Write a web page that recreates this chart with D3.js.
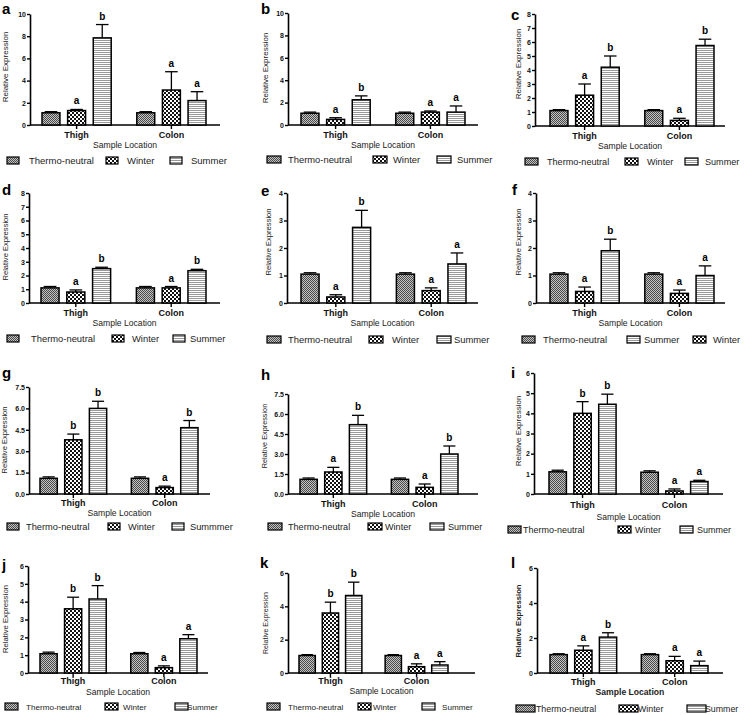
<!DOCTYPE html>
<html>
<head>
<meta charset="utf-8">
<script src="https://cdn.jsdelivr.net/npm/d3@7"></script>
<style>
  body { margin: 0; background: #fff; }
  svg { display: block; }
  text { font-family: "Liberation Sans", Arial, sans-serif; }
</style>
</head>
<body>
<div id="chart"></div>
<script>
const width = 746,
  height = 715;

// ---- data ----
const panelLetters = ["a", "b", "c", "d", "e", "f", "g", "h", "i", "j", "k", "l"];
const groups = ["Thigh", "Colon"];
const seriesNames = ["Thermo-neutral", "Winter", "Summer"];

// mean relative expression, order: Thermo-neutral, Winter, Summer
const thighMeans = [
  [1.1, 1.3, 7.85], [1.05, 0.5, 2.25], [1.1, 2.2, 4.2],
  [1.1, 0.8, 2.5], [1.05, 0.22, 2.75], [1.05, 0.42, 1.9],
  [1.1, 3.8, 6.0], [1.1, 1.65, 5.2], [1.1, 4.0, 4.45],
  [1.08, 3.6, 4.15], [1.05, 3.6, 4.65], [1.05, 1.3, 2.05]
];
const thighErrors = [
  [0.1, 0.1, 1.2], [0.1, 0.15, 0.35], [0.07, 0.8, 0.8],
  [0.1, 0.15, 0.1], [0.05, 0.08, 0.62], [0.05, 0.16, 0.42],
  [0.1, 0.4, 0.5], [0.1, 0.35, 0.7], [0.08, 0.58, 0.5],
  [0.09, 0.65, 0.75], [0.05, 0.65, 0.8], [0.05, 0.25, 0.25]
];
const colonMeans = [
  [1.1, 3.15, 2.2], [1.05, 1.15, 1.15], [1.1, 0.4, 5.75],
  [1.1, 1.1, 2.35], [1.05, 0.45, 1.42], [1.05, 0.35, 1.0],
  [1.1, 0.45, 4.65], [1.1, 0.5, 3.0], [1.08, 0.15, 0.62],
  [1.08, 0.3, 1.92], [1.05, 0.38, 0.48], [1.05, 0.7, 0.42]
];
const colonErrors = [
  [0.1, 1.65, 0.8], [0.1, 0.1, 0.55], [0.07, 0.15, 0.45],
  [0.1, 0.1, 0.1], [0.05, 0.1, 0.4], [0.05, 0.12, 0.35],
  [0.1, 0.1, 0.5], [0.1, 0.25, 0.6], [0.07, 0.1, 0.06],
  [0.07, 0.1, 0.23], [0.05, 0.17, 0.2], [0.05, 0.25, 0.26]
];
const thighSig = [
  ["", "a", "b"], ["", "a", "b"], ["", "a", "b"], ["", "a", "b"], ["", "a", "b"], ["", "a", "b"],
  ["", "b", "b"], ["", "a", "b"], ["", "b", "b"], ["", "b", "b"], ["", "b", "b"], ["", "a", "b"]
];
const colonSig = [
  ["", "a", "a"], ["", "a", "a"], ["", "a", "b"], ["", "a", "b"], ["", "a", "a"], ["", "a", "a"],
  ["", "a", "b"], ["", "a", "b"], ["", "a", "a"], ["", "a", "a"], ["", "a", "a"], ["", "a", "a"]
];
const yTicks = [
  [0, 2, 4, 6, 8, 10], [0, 2, 4, 6, 8, 10], [0, 1, 2, 3, 4, 5, 6, 7, 8],
  [0, 1, 2, 3, 4, 5, 6, 7, 8], [0, 1, 2, 3, 4], [0, 1, 2, 3, 4],
  [0, 1.5, 3, 4.5, 6, 7.5], [0, 1.5, 3, 4.5, 6, 7.5], [0, 1, 2, 3, 4, 5, 6],
  [0, 1, 2, 3, 4, 5, 6], [0, 2, 4, 6], [0, 2, 4, 6]
];
// legend entries (index into seriesNames) and their printed text
const legendOrder = [
  [0, 1, 2], [0, 1, 2], [0, 1, 2], [0, 1, 2], [0, 1, 2], [0, 2, 1],
  [0, 1, 2], [0, 1, 2], [0, 1, 2], [0, 1, 2], [0, 1, 2], [0, 1, 2]
];
const legendText = [
  ["Thermo-neutral", "Winter", "Summer"], ["Thermo-neutral", "Winter", "Summer"],
  ["Thermo-neutral", "Winter", "Summer"], ["Thermo-neutral", "Winter", "Summer"],
  ["Thermo-neutral", "Winter", "Summer"], ["Thermo-neutral", "Summer", "Winter"],
  ["Thermo-neutral", "Winter", "Summmer"], ["Thermo-neutral", "Winter", "Summer"],
  ["Thermo-neutral", "Winter", "Summer"], ["Thermo-neutral", "Winter", "Summer"],
  ["Thermo-neutral", "Winter", "Summer"], ["Thermo-neutral", "Winter", "Summer"]
];

// ---- panel placement on the page ----
const layout = [
  { ax: [30, 220], bx: [42, 206], y: [125, 14], lt: [2, 14], yl: [8, 67, 8], grp: 138, xl: 148, lg: 164, sw: [7, 106, 170], tx: [29, 127, 191], swW: 12, lf: 9.5 },
  { ax: [288, 478], bx: [301, 465], y: [125, 13], lt: [261, 14], yl: [268, 68, 8], grp: 138, xl: 148, lg: 163, sw: [267, 373, 437], tx: [288, 393, 457], swW: 14, lf: 9.4 },
  { ax: [535, 725], bx: [550, 714], y: [126, 14], lt: [511, 20], yl: [521, 64, 8], grp: 139, xl: 149, lg: 165, sw: [525, 625, 685], tx: [547, 647, 705], swW: 13, lf: 9.1 },
  { ax: [29, 220], bx: [41, 206], y: [303, 193], lt: [2, 195], yl: [8, 247, 7.6], grp: 316, xl: 326, lg: 342, sw: [7, 112, 173], tx: [31, 132, 190], swW: 12, lf: 9.4 },
  { ax: [287, 478], bx: [301, 466], y: [303, 193], lt: [261, 196], yl: [271, 242, 7.6], grp: 316, xl: 326, lg: 343, sw: [267, 369, 437], tx: [288, 392, 454], swW: 14, lf: 9.4 },
  { ax: [536, 725], bx: [550, 714], y: [303, 193], lt: [512, 195], yl: [521, 242, 7.6], grp: 316, xl: 326, lg: 343, sw: [522, 627, 693], tx: [543, 644, 713], swW: 13, lf: 9.4 },
  { ax: [29, 210], bx: [40, 198], y: [494, 387], lt: [2, 378], yl: [7, 440, 7.6], grp: 506, xl: 516, lg: 530, sw: [7, 108, 172], tx: [26, 128, 190], swW: 12, lf: 9.3 },
  { ax: [288, 478], bx: [300, 458], y: [494, 394], lt: [261, 380], yl: [267, 436, 7.3], grp: 507, xl: 517, lg: 530, sw: [268, 368, 430], tx: [288, 385, 448], swW: 14, lf: 9.1 },
  { ax: [534, 723], bx: [549, 708], y: [494, 373], lt: [511, 378], yl: [521, 431, 8], grp: 508, xl: 520, lg: 533, sw: [508, 618, 680], tx: [523, 635, 697], swW: 13, lf: 9 },
  { ax: [28, 208], bx: [40, 197], y: [673, 566], lt: [2, 570], yl: [8, 619, 7.7], grp: 684, xl: 695, lg: 710, sw: [5, 105, 175], tx: [26, 123, 187], swW: 13, lf: 8.1 },
  { ax: [288, 475], bx: [299, 448], y: [673, 573], lt: [260, 568], yl: [268, 623, 7], grp: 684, xl: 694, lg: 710, sw: [267, 358, 422], tx: [288, 373, 442], swW: 13, lf: 8.1 },
  { ax: [537, 723], bx: [550, 708], y: [673, 568], lt: [511, 568], yl: [521, 621, 7.7], grp: 685, xl: 695, lg: 712, sw: [516, 619, 687], tx: [536, 638, 705], swW: 19, lf: 8.8 }
];

const svg = d3
  .select("#chart")
  .append("svg")
  .attr("width", width)
  .attr("height", height);

// hatch patterns used by GraphPad for the three seasons
const defs = svg.append("defs");
const pTN = defs.append("pattern").attr("id", "pTN").attr("patternUnits", "userSpaceOnUse").attr("width", 2).attr("height", 2);
pTN.append("rect").attr("width", 2).attr("height", 2).attr("fill", "#c4c4c4");
pTN.append("rect").attr("width", 1).attr("height", 1).attr("fill", "#4a4a4a");
pTN.append("rect").attr("x", 1).attr("y", 1).attr("width", 1).attr("height", 1).attr("fill", "#4a4a4a");

const pW = defs.append("pattern").attr("id", "pW").attr("patternUnits", "userSpaceOnUse").attr("width", 4).attr("height", 4);
pW.append("rect").attr("width", 4).attr("height", 4).attr("fill", "#fff");
pW.append("rect").attr("width", 2).attr("height", 2).attr("fill", "#111");
pW.append("rect").attr("x", 2).attr("y", 2).attr("width", 2).attr("height", 2).attr("fill", "#111");

const pS = defs.append("pattern").attr("id", "pS").attr("patternUnits", "userSpaceOnUse").attr("width", 4).attr("height", 2);
pS.append("rect").attr("width", 4).attr("height", 2).attr("fill", "#fff");
pS.append("rect").attr("width", 4).attr("height", 1).attr("fill", "#9a9a9a");

const fills = ["url(#pTN)", "url(#pW)", "url(#pS)"];

panelLetters.forEach(function (letter, p) {
  const L = layout[p];
  const g = svg.append("g");

  const y = d3
    .scaleLinear()
    .domain([0, d3.max(yTicks[p])])
    .range(L.y);

  const x0 = d3.scaleBand().domain(groups).range(L.bx).paddingInner(0.27).paddingOuter(0);
  const x1 = d3.scaleBand().domain([0, 1, 2]).range([0, x0.bandwidth()]).paddingInner(0.3).paddingOuter(0);

  // panel letter
  g.append("text")
    .attr("x", L.lt[0])
    .attr("y", L.lt[1])
    .style("font-size", "15px")
    .style("font-weight", "bold")
    .text(letter);

  // y axis
  const yAxis = g
    .append("g")
    .attr("transform", `translate(${L.ax[0]},0)`)
    .call(
      d3
        .axisLeft(y)
        .tickValues(yTicks[p])
        .tickSize(3)
        .tickSizeOuter(0)
        .tickPadding(1)
        .tickFormat(p == 6 || p == 7 ? d3.format(".1f") : d3.format("d"))
    );
  yAxis.select(".domain").attr("stroke-width", 1.6);
  yAxis.selectAll(".tick line").attr("stroke-width", 1.4);
  yAxis.selectAll("text").style("font-size", "7px").style("font-weight", "bold").attr("fill", "#111");

  // x axis
  const xAxis = g
    .append("g")
    .attr("transform", `translate(0,${L.y[0]})`)
    .call(d3.axisBottom(x0).tickSize(4).tickSizeOuter(0).tickPadding(L.grp - L.y[0] - 10.5));
  xAxis.select(".domain").remove();
  xAxis.selectAll(".tick line").attr("stroke-width", 1.4);
  xAxis.selectAll("text").style("font-size", "9px").style("font-weight", "bold").attr("fill", "#111");
  g.append("line")
    .attr("x1", L.ax[0])
    .attr("x2", L.ax[1])
    .attr("y1", L.y[0])
    .attr("y2", L.y[0])
    .attr("stroke", "#000")
    .attr("stroke-width", 1.6);

  // axis titles
  g.append("text")
    .attr("transform", `translate(${L.yl[0]},${L.yl[1]}) rotate(-90)`)
    .attr("text-anchor", "middle")
    .style("font-size", L.yl[2] + "px")
    .style("font-weight", p == 11 ? "bold" : "normal")
    .attr("fill", "#222")
    .text("Relative Expression");
  g.append("text")
    .attr("x", (L.ax[0] + L.ax[1]) / 2)
    .attr("y", L.xl)
    .attr("text-anchor", "middle")
    .style("font-size", "8.6px")
    .style("font-weight", p == 11 ? "bold" : "normal")
    .attr("fill", "#222")
    .text("Sample Location");

  // bars
  const rows = [];
  groups.forEach(function (grp, gi) {
    const m = gi == 0 ? thighMeans[p] : colonMeans[p];
    const e = gi == 0 ? thighErrors[p] : colonErrors[p];
    const s = gi == 0 ? thighSig[p] : colonSig[p];
    m.forEach((v, si) => rows.push({ group: grp, series: si, mean: v, err: e[si], sig: s[si] }));
  });

  const bx = (d) => x0(d.group) + x1(d.series);
  const bw = x1.bandwidth();

  // error bars (upper only)
  g.selectAll("errLine")
    .data(rows)
    .join("line")
    .attr("x1", (d) => bx(d) + bw / 2)
    .attr("x2", (d) => bx(d) + bw / 2)
    .attr("y1", (d) => y(d.mean))
    .attr("y2", (d) => y(d.mean + d.err))
    .attr("stroke", "#000")
    .attr("stroke-width", 1.3);
  g.selectAll("errCap")
    .data(rows)
    .join("line")
    .attr("x1", (d) => bx(d) + bw * 0.15)
    .attr("x2", (d) => bx(d) + bw * 0.85)
    .attr("y1", (d) => y(d.mean + d.err))
    .attr("y2", (d) => y(d.mean + d.err))
    .attr("stroke", "#000")
    .attr("stroke-width", 1.3);

  g.selectAll("bar")
    .data(rows)
    .join("rect")
    .attr("x", bx)
    .attr("width", bw)
    .attr("y", (d) => y(d.mean))
    .attr("height", (d) => y(0) - y(d.mean))
    .attr("fill", (d) => fills[d.series])
    .attr("stroke", "#000")
    .attr("stroke-width", 1.5);

  // significance letters
  g.selectAll("sig")
    .data(rows.filter((d) => d.sig))
    .join("text")
    .attr("x", (d) => bx(d) + bw / 2)
    .attr("y", (d) => y(d.mean + d.err) - 5)
    .attr("text-anchor", "middle")
    .style("font-size", "10px")
    .style("font-weight", "bold")
    .text((d) => d.sig);

  // legend
  legendOrder[p].forEach(function (si, k) {
    g.append("rect")
      .attr("x", L.sw[k])
      .attr("y", L.lg - 7)
      .attr("width", L.swW)
      .attr("height", 7)
      .attr("fill", fills[si])
      .attr("stroke", "#000")
      .attr("stroke-width", 1.2);
    g.append("text")
      .attr("x", L.tx[k])
      .attr("y", L.lg)
      .style("font-size", L.lf + "px")
      .attr("fill", "#222")
      .text(legendText[p][k]);
  });
});
</script>
</body>
</html>
